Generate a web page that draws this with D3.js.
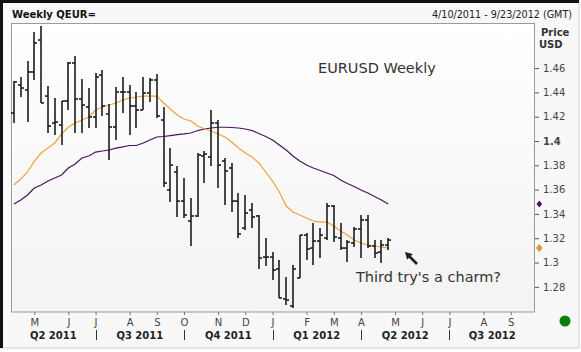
<!DOCTYPE html>
<html>
<head>
<meta charset="utf-8">
<script src="https://cdn.jsdelivr.net/npm/d3@7"></script>
<style>
  body { margin: 0; background: #fff; }
  svg { display: block; }
</style>
</head>
<body>
<div id="chart"></div>
<script>
// weekly bars, week start dates
const weeks = [
  "2011-04-10","2011-04-17","2011-04-24","2011-05-01","2011-05-08","2011-05-15","2011-05-22","2011-05-29",
  "2011-06-05","2011-06-12","2011-06-19","2011-06-26","2011-07-03","2011-07-10","2011-07-17","2011-07-24",
  "2011-07-31","2011-08-07","2011-08-14","2011-08-21","2011-08-28","2011-09-04","2011-09-11","2011-09-18",
  "2011-09-25","2011-10-02","2011-10-09","2011-10-16","2011-10-23","2011-10-30","2011-11-06","2011-11-13",
  "2011-11-20","2011-11-27","2011-12-04","2011-12-11","2011-12-18","2011-12-25","2012-01-01","2012-01-08",
  "2012-01-15","2012-01-22","2012-01-29","2012-02-05","2012-02-12","2012-02-19","2012-02-26","2012-03-04",
  "2012-03-11","2012-03-18","2012-03-25","2012-04-01","2012-04-08","2012-04-15","2012-04-22","2012-04-29"
];
const open = [
  1.4230,1.4461,1.4420,1.4568,1.4831,1.4370,1.4148,1.4132,1.4329,1.4642,1.4346,1.4280,1.4198,1.4543,
  1.4222,1.4115,1.4403,1.4403,1.4288,1.4255,1.4395,1.4502,1.4173,1.3597,1.3745,1.3506,1.3342,1.3383,
  1.3877,1.3868,1.4148,1.3835,1.3778,1.3506,1.3284,1.3432,1.3383,1.3045,1.3045,1.2947,1.2700,1.2642,
  1.2873,1.3226,1.3119,1.3177,1.3202,1.3465,1.3202,1.3119,1.3161,1.3276,1.3350,1.3136,1.3086,1.3144
];
const high = [
  1.4494,1.4527,1.4658,1.4897,1.4947,1.4453,1.4354,1.4329,1.4650,1.4700,1.4510,1.4436,1.4560,1.4584,
  1.4305,1.4444,1.4527,1.4461,1.4403,1.4527,1.4518,1.4551,1.4280,1.3942,1.3794,1.3695,1.3531,1.3901,
  1.3918,1.4255,1.4173,1.3860,1.3819,1.3572,1.3556,1.3490,1.3391,1.3202,1.3086,1.3021,1.2881,1.2980,
  1.3226,1.3243,1.3325,1.3284,1.3490,1.3473,1.3325,1.3185,1.3292,1.3391,1.3391,1.3185,1.3185,1.3202
];
const low = [
  1.4148,1.4362,1.4156,1.4502,1.4313,1.4066,1.4049,1.3967,1.4255,1.4066,1.4066,1.4107,1.4107,1.4206,
  1.3844,1.4008,1.4230,1.4049,1.4107,1.4255,1.4321,1.4189,1.3621,1.3498,1.3375,1.3366,1.3136,1.3375,
  1.3654,1.3794,1.3613,1.3473,1.3416,1.3202,1.3268,1.3284,1.2947,1.2971,1.2856,1.2708,1.2650,1.2626,
  1.2873,1.3021,1.2980,1.3037,1.3185,1.3169,1.3103,1.3004,1.3128,1.3037,1.3119,1.3037,1.2996,1.3103
];
const close = [
  1.4486,1.4436,1.4568,1.4807,1.4313,1.4123,1.4156,1.4329,1.4642,1.4346,1.4296,1.4198,1.4527,1.4288,
  1.4115,1.4403,1.4403,1.4288,1.4255,1.4395,1.4502,1.4206,1.3654,1.3802,1.3506,1.3391,1.3383,1.3885,
  1.3893,1.4148,1.3802,1.3753,1.3506,1.3235,1.3407,1.3375,1.3037,1.3045,1.2938,1.2708,1.2691,1.2947,
  1.3226,1.3111,1.3177,1.3226,1.3465,1.3210,1.3119,1.3169,1.3276,1.3350,1.3136,1.3078,1.3144,1.3185
];
// moving averages
const maFast = [
  1.3638,1.3687,1.3745,1.3835,1.3901,1.3942,1.3984,1.4058,1.4115,1.4148,1.4173,1.4198,1.4255,1.4280,
  1.4296,1.4313,1.4337,1.4354,1.4362,1.4370,1.4370,1.4370,1.4313,1.4263,1.4214,1.4181,1.4165,1.4123,
  1.4099,1.4082,1.4058,1.4033,1.3992,1.3942,1.3901,1.3868,1.3819,1.3745,1.3671,1.3580,1.3465,1.3416,
  1.3391,1.3366,1.3342,1.3333,1.3333,1.3300,1.3259,1.3226,1.3185,1.3161,1.3144,1.3136,1.3128,1.3119
];
const maSlow = [
  1.3481,1.3514,1.3556,1.3613,1.3638,1.3671,1.3695,1.3720,1.3778,1.3811,1.3860,1.3877,1.3909,1.3918,
  1.3926,1.3942,1.3951,1.3963,1.3963,1.3984,1.4008,1.4033,1.4037,1.4045,1.4053,1.4058,1.4066,1.4086,
  1.4099,1.4107,1.4113,1.4113,1.4111,1.4107,1.4099,1.4086,1.4062,1.4037,1.4008,1.3967,1.3926,1.3877,
  1.3835,1.3802,1.3778,1.3757,1.3737,1.3716,1.3679,1.3650,1.3626,1.3597,1.3572,1.3543,1.3514,1.3481
];
const monthTicks = [
  "2011-05-01","2011-06-05","2011-07-03","2011-08-07","2011-09-04","2011-10-02","2011-11-06","2011-12-04",
  "2012-01-01","2012-02-05","2012-03-04","2012-04-01","2012-05-06","2012-06-03","2012-07-01","2012-08-05","2012-09-02"
];
const monthLabels = ["M","J","J","A","S","O","N","D","J","F","M","A","M","J","J","A","S"];
const quarterBreaks = ["2011-07-03","2011-10-02","2012-01-01","2012-04-01","2012-07-01"];
const quarterLabels = ["Q2 2011","Q3 2011","Q4 2011","Q1 2012","Q2 2012","Q3 2012"];
const priceTicks = [1.28,1.30,1.32,1.34,1.36,1.38,1.40,1.42,1.44,1.46];

const width = 581, height = 352;
const font = "'DejaVu Sans', Verdana, sans-serif";
const parse = d3.timeParse("%Y-%m-%d");
const mid = s => d3.timeDay.offset(parse(s), 3);

const x = d3.scaleTime()
  .domain([parse("2011-04-10"), parse("2012-09-30")])
  .range([11, 535]);
const y = d3.scaleLinear()
  .domain([1.2593, 1.4971])
  .range([312, 23]);

const svg = d3.select("#chart").append("svg")
  .attr("width", width)
  .attr("height", height)
  .attr("font-family", font);

const defs = svg.append("defs");
const grad = defs.append("linearGradient").attr("id", "plotbg")
  .attr("x1", 0).attr("y1", 0).attr("x2", 0).attr("y2", 1);
grad.append("stop").attr("offset", "0%").attr("stop-color", "#ffffff");
grad.append("stop").attr("offset", "100%").attr("stop-color", "#f3f3f3");

// frame
svg.append("rect").attr("width", width).attr("height", height).attr("fill", "#ffffff");
svg.append("rect").attr("x", 0).attr("y", 0).attr("width", 579).attr("height", 348)
  .attr("fill", "#f8f8f8").attr("stroke", "#d0d0d0");
svg.append("rect").attr("x", 0).attr("y", 0).attr("width", 3).attr("height", 348).attr("fill", "#111");
svg.append("rect").attr("x", 0).attr("y", 0).attr("width", 579).attr("height", 3).attr("fill", "#111");

// plot area
svg.append("rect")
  .attr("x", 11.5).attr("y", 23.5)
  .attr("width", 523).attr("height", 288.5)
  .attr("fill", "url(#plotbg)")
  .attr("stroke", "#9a9a9a");

// header
svg.append("text").attr("x", 12).attr("y", 17.5)
  .attr("font-size", 10).attr("font-weight", "bold").attr("fill", "#111")
  .text("Weekly QEUR=");
svg.append("text").attr("x", 572).attr("y", 17.5).attr("text-anchor", "end")
  .attr("font-size", 9.6).attr("fill", "#222")
  .text("4/10/2011 - 9/23/2012 (GMT)");
svg.append("text").attr("x", 541).attr("y", 36)
  .attr("font-size", 10).attr("font-weight", "bold").attr("fill", "#333").text("Price");
svg.append("text").attr("x", 539).attr("y", 48)
  .attr("font-size", 10).attr("font-weight", "bold").attr("fill", "#333").text("USD");

// right price axis
const yAxis = svg.append("g")
  .attr("transform", "translate(535,0)")
  .call(d3.axisRight(y).tickValues(priceTicks).tickSize(4).tickPadding(4)
    .tickFormat(d => String(+d.toFixed(2))));
yAxis.select(".domain").remove();
yAxis.selectAll("line").attr("stroke", "#555");
yAxis.selectAll("text")
  .attr("font-family", font).attr("font-size", 10).attr("fill", "#444")
  .attr("font-weight", d => d === 1.40 ? "bold" : null);

// bottom month axis
const months = monthTicks.map(mid);
const xAxis = svg.append("g")
  .attr("transform", "translate(0,312)")
  .call(d3.axisBottom(x).tickValues(months).tickSize(3).tickPadding(3.5)
    .tickFormat((d, i) => monthLabels[i]));
xAxis.select(".domain").remove();
xAxis.selectAll("line").attr("stroke", "#777");
xAxis.selectAll("text").attr("font-family", font).attr("font-size", 10).attr("fill", "#444");

// quarters
const breaksX = quarterBreaks.map(s => x(mid(s)));
const edges = [x.range()[0], ...breaksX, x.range()[1]];
svg.append("g").selectAll("line").data(breaksX).join("line")
  .attr("x1", d => Math.round(d) + 0.5).attr("x2", d => Math.round(d) + 0.5)
  .attr("y1", 330).attr("y2", 340)
  .attr("stroke", "#333").attr("stroke-width", 1);
svg.append("g").selectAll("text").data(quarterLabels).join("text")
  .attr("x", (d, i) => (edges[i] + edges[i + 1]) / 2)
  .attr("y", 338.5)
  .attr("text-anchor", "middle")
  .attr("font-size", 10).attr("font-weight", "bold").attr("fill", "#222")
  .text(d => d);

// moving averages
const bx = weeks.map(s => x(mid(s)));
const line = d3.line().x((d, i) => bx[i]).y(d => y(d));
svg.append("path").attr("d", line(maSlow))
  .attr("fill", "none").attr("stroke", "#4a1458").attr("stroke-width", 1.2);
svg.append("path").attr("d", line(maFast))
  .attr("fill", "none").attr("stroke", "#eba23e").attr("stroke-width", 1.2);

// OHLC bars
const bars = svg.append("g").attr("stroke", "#1c1c1c").attr("stroke-width", 1.6);
weeks.forEach((w, i) => {
  const cx = Math.round(bx[i]);
  bars.append("line").attr("x1", cx).attr("x2", cx).attr("y1", y(high[i])).attr("y2", y(low[i]));
  bars.append("line").attr("x1", cx - 3).attr("x2", cx).attr("y1", y(open[i])).attr("y2", y(open[i]));
  bars.append("line").attr("x1", cx).attr("x2", cx + 3).attr("y1", y(close[i])).attr("y2", y(close[i]));
});

// last value markers
const diamond = "M0,-3.5L2.8,0L0,3.5L-2.8,0Z";
svg.append("path").attr("d", diamond)
  .attr("transform", `translate(539.3,${y(maSlow[maSlow.length - 1])})`)
  .attr("fill", "#4a1458");
svg.append("path").attr("d", diamond)
  .attr("transform", `translate(539.3,${y(maFast[maFast.length - 1])})`)
  .attr("fill", "#f39a1e").attr("stroke", "#6b4a20").attr("stroke-width", 0.4);

// annotations
svg.append("text").attr("x", 318).attr("y", 73)
  .attr("font-size", 14.5).attr("fill", "#333").text("EURUSD Weekly");
svg.append("text").attr("x", 356).attr("y", 282)
  .attr("font-size", 14.5).attr("fill", "#333").text("Third try's a charm?");
svg.append("line").attr("x1", 417).attr("y1", 264).attr("x2", 409).attr("y2", 256)
  .attr("stroke", "#222").attr("stroke-width", 2.6);
svg.append("path").attr("d", "M405,252L412.8,254.1L407.1,259.8Z").attr("fill", "#222");

// status dot
svg.append("circle").attr("cx", 565).attr("cy", 321).attr("r", 5.5).attr("fill", "#0a800a");
</script>
</body>
</html>
